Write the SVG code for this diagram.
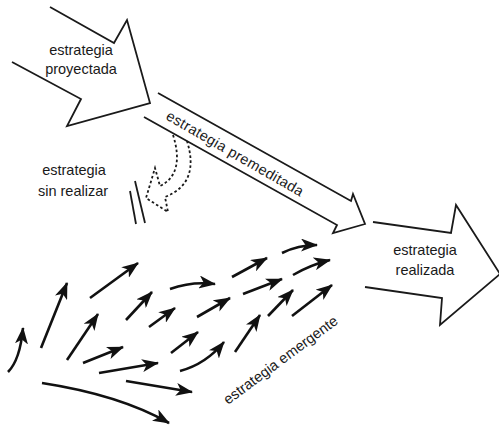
<svg xmlns="http://www.w3.org/2000/svg" width="499" height="426" viewBox="0 0 499 426">
  <style>
    .outline { fill: #ffffff; stroke: #1a1a1a; stroke-width: 1.8; stroke-linejoin: miter; }
    .dashed { fill: none; stroke: #1a1a1a; stroke-width: 1.8; stroke-dasharray: 2.6 2.4; }
    .bar { stroke: #1a1a1a; stroke-width: 1.8; }
    .small { fill: none; stroke: #111111; stroke-width: 2.6; marker-end: url(#head); }
    .label { font-family: "Liberation Sans", Arial, sans-serif; font-size: 14.5px; fill: #1a1a1a; }
    .mid { text-anchor: middle; }
  </style>
  <defs>
    <marker id="head" viewBox="0 0 17 13" markerWidth="17" markerHeight="13" refX="16" refY="6.5" orient="auto" markerUnits="userSpaceOnUse">
      <path d="M17,6.5 L0,0 L4.5,6.5 L0,13 Z" fill="#111111"/>
    </marker>
  </defs>
  <rect width="499" height="426" fill="#ffffff"/>

  <!-- projected strategy: open block arrow -->
  <g id="proyectada">
    <polyline class="outline" points="50,7 114,43 127,20 150,103 67,126 81,99 12,62"/>
    <text class="label mid" x="81" y="55">estrategia</text>
    <text class="label mid" x="81" y="74">proyectada</text>
  </g>

  <!-- deliberate strategy: long band arrow -->
  <g id="premeditada">
    <polyline class="outline" points="158,93 351,201 353,194 365,224 333,233 337,225 144,117"/>
    <text class="label" transform="translate(151,105) rotate(30)" x="19" y="5" textLength="156" lengthAdjust="spacing">estrategia premeditada</text>
  </g>

  <!-- unrealized strategy: dashed arrow peeling off, blocked by double bar -->
  <g id="sin-realizar">
    <path class="dashed" d="M173,135 C181,160 177,178 160,186 L155,168 L146,198 L168,212 L165,197 C188,188 196,170 187,141"/>
    <line class="bar" x1="135" y1="181" x2="145" y2="223"/>
    <line class="bar" x1="130" y1="191" x2="136" y2="224"/>
    <text class="label mid" x="74" y="175">estrategia</text>
    <text class="label mid" x="73" y="196">sin realizar</text>
  </g>

  <!-- realized strategy: large block arrow -->
  <g id="realizada">
    <polyline class="outline" points="373,222 451,233 456,205 500,274 440,325 442,298 365,287"/>
    <text class="label mid" x="425" y="255">estrategia</text>
    <text class="label mid" x="425" y="275">realizada</text>
  </g>

  <!-- emergent strategy: field of small arrows -->
  <g id="emergente">
    <path class="small" d="M8,372 Q20,360 23,328"/>
    <path class="small" d="M41,348 L67,283"/>
    <path class="small" d="M90,298 L138,263"/>
    <path class="small" d="M67,360 L98,314"/>
    <path class="small" d="M126,320 L152,292"/>
    <path class="small" d="M170,289 Q192,281 215,284"/>
    <path class="small" d="M149,327 L175,308"/>
    <path class="small" d="M83,363 L123,347"/>
    <path class="small" d="M197,317 L230,298"/>
    <path class="small" d="M99,373 L158,363"/>
    <path class="small" d="M171,353 L198,332"/>
    <path class="small" d="M180,371 Q206,364 224,342"/>
    <path class="small" d="M126,381 L192,392"/>
    <path class="small" d="M42,383 Q120,395 169,423"/>
    <path class="small" d="M235,352 L260,315"/>
    <path class="small" d="M232,277 L267,258"/>
    <path class="small" d="M282,253 Q298,245 317,245"/>
    <path class="small" d="M243,294 L282,279"/>
    <path class="small" d="M293,275 Q310,265 330,260"/>
    <path class="small" d="M268,316 L293,290"/>
    <path class="small" d="M292,316 L332,285"/>
    <text class="label" transform="translate(228,405) rotate(-36.5)" x="0" y="0" textLength="138" lengthAdjust="spacing">estrategia emergente</text>
  </g>
</svg>
